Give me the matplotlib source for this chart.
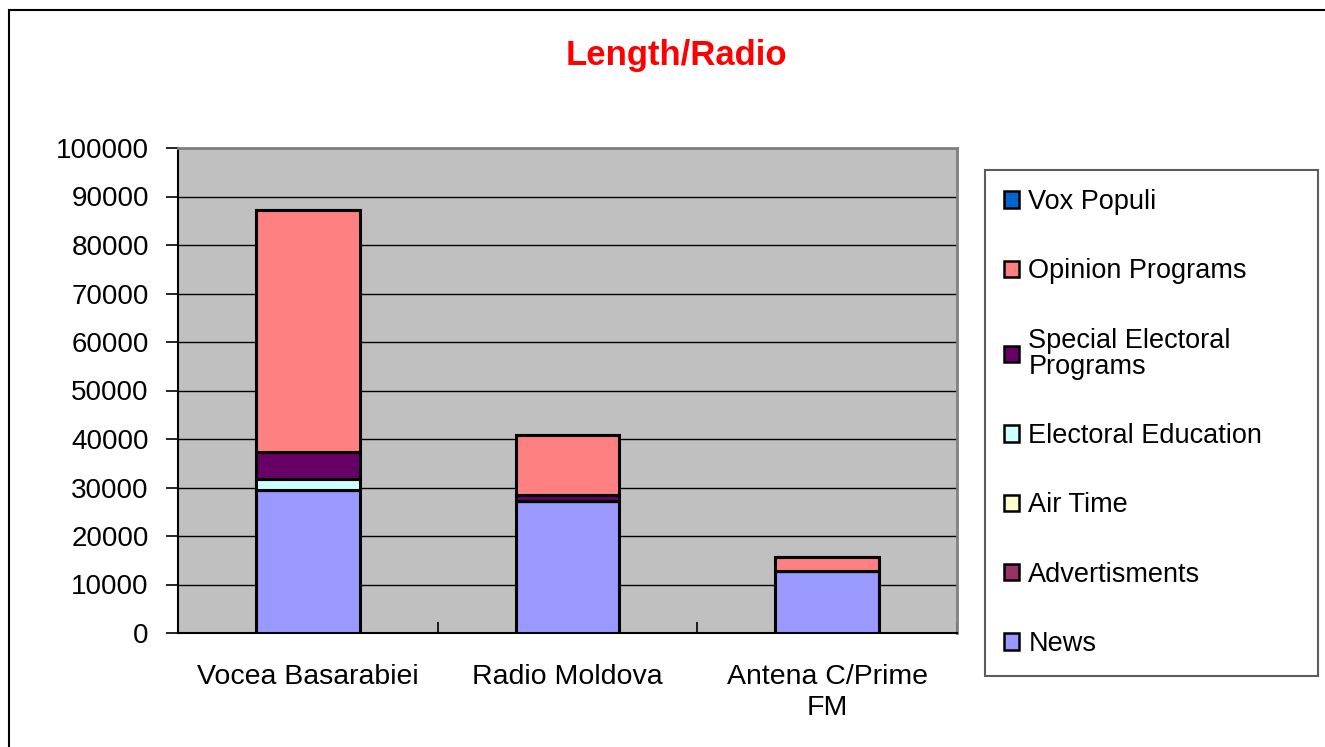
import numpy as np
import matplotlib
matplotlib.use("Agg")
import matplotlib.pyplot as plt
from matplotlib.patches import Patch, Rectangle

plt.rcParams["font.family"] = ["Liberation Sans", "DejaVu Sans"]

stations = ["Vocea Basarabiei", "Radio Moldova", "Antena C/Prime\nFM"]
# stacked from bottom to top
series = ["News", "Advertisments", "Air Time", "Electoral Education",
          "Special Electoral\nPrograms", "Opinion Programs", "Vox Populi"]
news = [29500, 27200, 12800]
advertisments = [0, 0, 0]
air_time = [0, 0, 0]
electoral_education = [2200, 0, 0]
special_electoral = [5600, 1200, 0]
opinion = [49900, 12400, 2900]
vox_populi = [0, 0, 0]
colors = ["#9999FF", "#993366", "#FFFFCC", "#CCFFFF", "#660066", "#FF8080", "#0066CC"]

values = [news, advertisments, air_time, electoral_education,
          special_electoral, opinion, vox_populi]

fig = plt.figure(figsize=(13.25, 7.47), dpi=100)
ax = fig.add_axes([178/1325, 1-633/747, (957-178)/1325, (633-148)/747])
ax.set_facecolor("#C0C0C0")

x = np.arange(len(stations))
bottom = np.zeros(len(stations))
for name, vals, c in zip(series, values, colors):
    vals = np.array(vals, dtype=float)
    ax.bar(x, vals, 0.4, bottom=bottom, color=c, edgecolor="black",
           linewidth=2.2, zorder=3)
    bottom += vals

ax.set_xlim(-0.5, 2.5)
ax.set_ylim(0, 100000)
ax.set_yticks(np.arange(0, 100001, 10000))
ax.yaxis.grid(True, color="black", linewidth=1, zorder=1)
ax.set_axisbelow(True)
ax.set_xticks(x)
ax.set_xticklabels(stations, fontsize=20.5, linespacing=1.25)
ax.set_xticks([-0.5, 0.5, 1.5, 2.5], minor=True)
ax.tick_params(axis="x", which="major", length=0, pad=22)
ax.tick_params(axis="x", which="minor", length=8, direction="in", width=1.2)
ax.tick_params(axis="y", labelsize=20, length=9, width=1.2, pad=12)
for s in ["top", "right"]:
    ax.spines[s].set_color("#808080")
    ax.spines[s].set_linewidth(2)
for s in ["left", "bottom"]:
    ax.spines[s].set_color("black")
    ax.spines[s].set_linewidth(1.5)

fig.text(676/1325, 1-55/747, "Length/Radio", color="#FF0000", fontsize=25,
         fontweight="bold", ha="center", va="center")

handles = [Patch(facecolor=c, edgecolor="black", linewidth=1.8, label=n)
           for n, c in zip(series, colors)][::-1]
leg = fig.legend(handles=handles, loc="upper left", mode="expand",
                 bbox_to_anchor=(985/1325, 1-682/747, 333/1325, 512/747),
                 fontsize=19.5, frameon=True, fancybox=False,
                 edgecolor="#333333", handlelength=0.55, handleheight=0.55,
                 handletextpad=0.35, labelspacing=1.6, borderpad=0.7,
                 borderaxespad=0)
leg.get_frame().set_linewidth(1.5)
for t in leg.get_texts():
    t.set_linespacing(1.0)

# outer chart border
fig.add_artist(Rectangle((9/1325, -0.1), 1.2, 1 - 10/747 + 0.1,
                         transform=fig.transFigure, fill=False,
                         edgecolor="black", linewidth=1.5))

fig.savefig("out.png", dpi=100)
